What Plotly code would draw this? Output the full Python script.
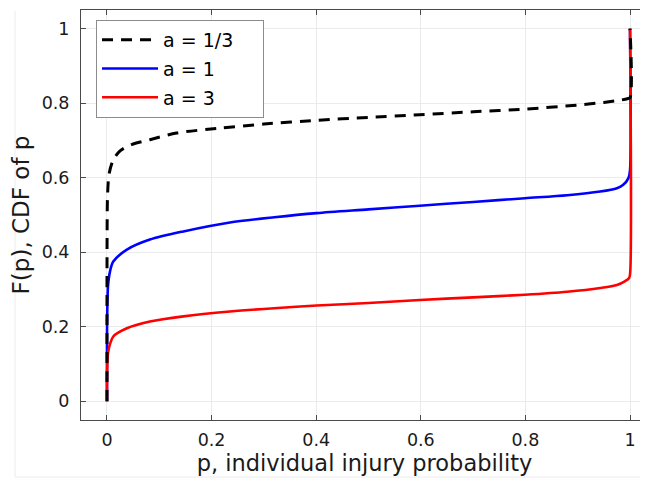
import plotly.graph_objects as go

# ---- data ----
p_third = [0, 0.0002, 0.001, 0.004, 0.012, 0.025, 0.047, 0.082, 0.133, 0.216, 0.30, 0.401, 0.5,
           0.598, 0.70, 0.799, 0.90, 0.95, 0.981, 0.995, 1.0, 1.0]
F_third = [0, 0.45, 0.55, 0.61, 0.648, 0.672, 0.689, 0.702, 0.72, 0.733, 0.744, 0.754, 0.762,
           0.769, 0.777, 0.784, 0.795, 0.802, 0.808, 0.812, 0.815, 1.0]

p_one = [0, 0.0003, 0.002, 0.006, 0.012, 0.038, 0.082, 0.146, 0.235, 0.32, 0.401, 0.5, 0.598,
         0.70, 0.799, 0.88, 0.943, 0.975, 0.987, 0.997, 1.0, 1.0]
F_one = [0, 0.22, 0.31, 0.35, 0.375, 0.407, 0.434, 0.456, 0.48, 0.494, 0.505, 0.515, 0.525,
         0.535, 0.545, 0.553, 0.563, 0.572, 0.581, 0.599, 0.62, 1.0]

p_three = [0, 0.0003, 0.002, 0.006, 0.012, 0.038, 0.082, 0.146, 0.235, 0.32, 0.401, 0.5, 0.598,
           0.70, 0.799, 0.88, 0.943, 0.975, 0.99, 0.998, 1.0, 1.0]
F_three = [0, 0.08, 0.13, 0.155, 0.174, 0.196, 0.214, 0.228, 0.241, 0.25, 0.257, 0.264, 0.272,
           0.279, 0.286, 0.294, 0.304, 0.312, 0.322, 0.33, 0.34, 1.0]

x_ticks = [0, 0.2, 0.4, 0.6, 0.8, 1]
x_ticklabels = ["0", "0.2", "0.4", "0.6", "0.8", "1"]
y_ticks = [0, 0.2, 0.4, 0.6, 0.8, 1]
y_ticklabels = ["0", "0.2", "0.4", "0.6", "0.8", "1"]

FONT = "DejaVu Sans, Liberation Sans, Arial, sans-serif"

fig = go.Figure()
fig.add_trace(go.Scatter(x=p_one, y=F_one, mode="lines", name="a = 1",
                         line=dict(color="#0000ff", width=2.6, shape="spline", smoothing=0.8),
                         legendrank=2, legendgroup="b"))
fig.add_trace(go.Scatter(x=p_three, y=F_three, mode="lines", name="a = 3",
                         line=dict(color="#ff0000", width=2.6, shape="spline", smoothing=0.8),
                         legendrank=3, legendgroup="c"))
fig.add_trace(go.Scatter(x=p_third, y=F_third, mode="lines", name="a = 1/3\u00a0\u00a0\u00a0\u00a0",
                         line=dict(color="#000000", width=3, dash="11px,8px",
                                   shape="spline", smoothing=0.8),
                         legendrank=1, legendgroup="a"))

axis_common = dict(
    showline=True, linecolor="#4a4a4a", linewidth=1,
    ticks="inside", ticklen=5, tickcolor="#4a4a4a",
    showgrid=True, gridcolor="#ebebeb", gridwidth=1,
    zeroline=False, automargin=False,
    tickfont=dict(family=FONT, size=17.5, color="#1a1a1a"),
)

# page body has an 8px margin, so the figure is 8px smaller than the window
fig.update_layout(
    width=640, height=471,
    margin=dict(l=73, r=0, t=2, b=59, autoexpand=False),
    plot_bgcolor="white", paper_bgcolor="white",
    font=dict(family=FONT, color="#1a1a1a"),
    xaxis=dict(range=[-0.0497, 1.0344], tickvals=x_ticks, ticktext=x_ticklabels,
               mirror="ticks", ticklabelstandoff=4,
               title=dict(text="p, individual injury probability",
                          font=dict(family=FONT, size=22.5), standoff=1),
               **axis_common),
    yaxis=dict(range=[-0.05, 1.05], tickvals=y_ticks, ticktext=y_ticklabels,
               mirror=False, ticklabelstandoff=7,
               title=dict(text="F(p), CDF of p",
                          font=dict(family=FONT, size=23), standoff=8),
               **axis_common),
    legend=dict(x=0.0265, y=0.9756, xanchor="left", yanchor="top",
                bgcolor="white", bordercolor="#8c8c8c", borderwidth=1,
                font=dict(family=FONT, size=19, color="#000"),
                itemwidth=56, tracegroupgap=1, traceorder="grouped"),
    showlegend=True,
    shapes=[
        dict(type="line", xref="paper", yref="paper",
             x0=(7 - 73) / 567, x1=(7 - 73) / 567,
             y0=(412 - 469) / 410, y1=(412 - 3) / 410,
             line=dict(color="#ececec", width=1)),
        dict(type="line", xref="paper", yref="paper",
             x0=(7 - 73) / 567, x1=1.0,
             y0=(412 - 469) / 410, y1=(412 - 469) / 410,
             line=dict(color="#ececec", width=1)),
    ],
)

fig.write_html("out.html")
